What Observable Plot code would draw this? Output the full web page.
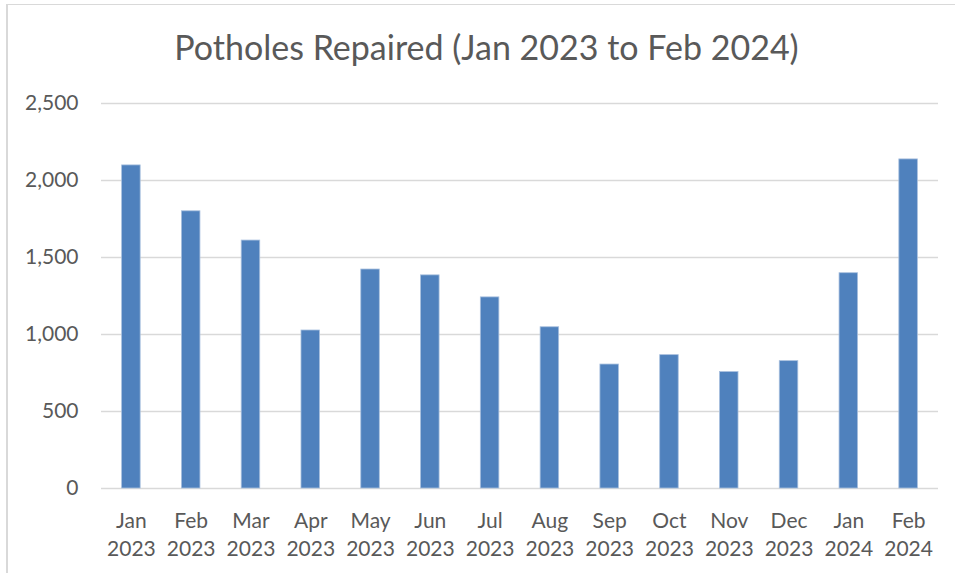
<!DOCTYPE html>
<html>
<head>
<meta charset="utf-8">
<script src="https://cdn.jsdelivr.net/npm/d3@7"></script>
<script src="https://cdn.jsdelivr.net/npm/@observablehq/plot@0.6"></script>
<style>
  html, body { margin: 0; padding: 0; background: #fff; overflow: hidden; }
  #wrap { position: relative; width: 955px; height: 573px; overflow: hidden; font-family: Lato, "Open Sans", sans-serif; }
  #frame { position: absolute; left: 6px; top: 4px; width: 1000px; height: 1000px;
           border-left: 2px solid #d9d9d9; border-top: 1px solid #d9d9d9; box-sizing: border-box; }
  #title { position: absolute; left: 0; width: 973px; top: 24px; text-align: center;
           font-size: 34px; color: #595959; line-height: 46px; white-space: nowrap; }
  #chart { position: absolute; left: 0; top: 0; }
</style>
</head>
<body>
<div id="wrap">
  <div id="frame"></div>
  <div id="title">Potholes Repaired (Jan 2023 to Feb 2024)</div>
  <div id="chart"></div>
</div>
<script>
const months = ["Jan", "Feb", "Mar", "Apr", "May", "Jun", "Jul", "Aug", "Sep", "Oct", "Nov", "Dec", "Jan", "Feb"];
const years = ["2023", "2023", "2023", "2023", "2023", "2023", "2023", "2023", "2023", "2023", "2023", "2023", "2024", "2024"];
const repaired = [2098, 1800, 1610, 1026, 1422, 1384, 1241, 1047, 805, 866, 756, 827, 1398, 2137];
const yTicks = [0, 500, 1000, 1500, 2000, 2500];

const data = months.map((m, i) => ({key: m + "\n" + years[i], value: repaired[i]}));

const chart = Plot.plot({
  width: 955,
  height: 573,
  marginLeft: 101,
  marginRight: 17,
  marginTop: 103,
  marginBottom: 85,
  style: {background: "transparent", color: "#595959", fontFamily: "Lato, 'Open Sans', sans-serif"},
  x: {domain: data.map(d => d.key), paddingInner: 0.69, paddingOuter: 0.345, align: 0.5, round: false, label: null},
  y: {domain: [0, 2500], label: null},
  marks: [
    Plot.gridY(yTicks, {stroke: "#d9d9d9", strokeOpacity: 1, strokeWidth: 1.5}),
    Plot.barY(data, {x: "key", y: "value", fill: "#4f81bd", stroke: "#a9c0de", strokeWidth: 0.8}),
    Plot.axisY(yTicks, {tickSize: 0, tickPadding: 23, fontSize: 21, tickFormat: d3.format(","), color: "#595959", label: null}),
    Plot.axisX({tickSize: 0, tickPadding: 20, fontSize: 21, lineHeight: 1.33, color: "#595959", label: null})
  ]
});
document.getElementById("chart").appendChild(chart);
</script>
</body>
</html>
